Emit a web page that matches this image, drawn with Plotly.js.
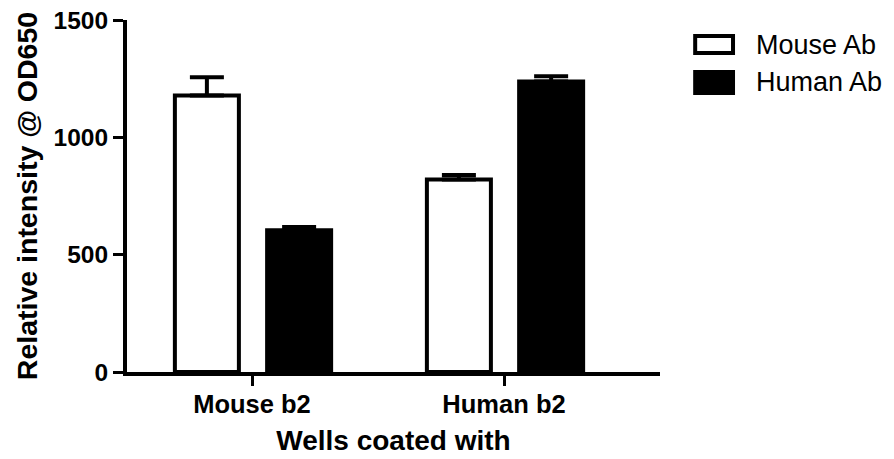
<!DOCTYPE html>
<html>
<head>
<meta charset="utf-8">
<script src="https://cdn.plot.ly/plotly-3.0.1.min.js"></script>
<style>html,body{margin:0;padding:0;background:#fff;}#chart{width:894px;height:459px;}</style>
</head>
<body>
<div id="chart"></div>
<script>
const categories = ['Mouse b2', 'Human b2'];
const seriesNames = ['Mouse Ab', 'Human Ab'];
const mouseAb = [1178, 820];
const mouseAbErr = [78, 20];
const humanAb = [604, 1238];
const humanAbErr = [14, 22];
const yTicks = [0, 500, 1000, 1500];

const FONT = 'Liberation Sans, Arial, sans-serif';

const traces = [
  {
    type: 'bar', name: seriesNames[0], x: categories, y: mouseAb,
    offset: -0.306, width: 0.254,
    marker: {color: '#ffffff', line: {color: '#000000', width: 4}},
    error_y: {type: 'data', symmetric: false, array: mouseAbErr, arrayminus: [0, 0], color: '#000000', thickness: 4, width: 17},
    showlegend: false
  },
  {
    type: 'bar', name: seriesNames[1], x: categories, y: humanAb,
    offset: 0.06, width: 0.254,
    marker: {color: '#000000', line: {color: '#000000', width: 4}},
    error_y: {type: 'data', symmetric: false, array: humanAbErr, arrayminus: [0, 0], color: '#000000', thickness: 4, width: 17},
    showlegend: false
  }
];

const legendShapes = [
  {type: 'rect', xref: 'paper', yref: 'paper', x0: 1.066, x1: 1.137, y0: 0.906, y1: 0.9545, fillcolor: '#ffffff', line: {color: '#000000', width: 4}},
  {type: 'rect', xref: 'paper', yref: 'paper', x0: 1.066, x1: 1.137, y0: 0.7926, y1: 0.852, fillcolor: '#000000', line: {color: '#000000', width: 4}}
];
const legendAnnotations = seriesNames.map((n, i) => ({
  xref: 'paper', yref: 'paper', x: 1.177, y: i === 0 ? 0.93 : 0.825,
  xanchor: 'left', yanchor: 'middle', showarrow: false, text: n,
  font: {family: FONT, size: 27, color: '#000000'}
}));

const layout = {
  width: 894, height: 459,
  margin: {l: 127, r: 234, t: 20, b: 87},
  paper_bgcolor: '#ffffff', plot_bgcolor: '#ffffff',
  barmode: 'overlay',
  showlegend: false,
  font: {family: FONT, color: '#000000'},
  xaxis: {
    type: 'category', range: [-0.496, 1.619], fixedrange: true,
    showline: true, linecolor: '#000000', linewidth: 4,
    ticks: 'outside', ticklen: 10, tickwidth: 3, tickcolor: '#000000',
    ticklabelstandoff: -4,
    showgrid: false, zeroline: false,
    tickfont: {family: FONT, size: 25.5, weight: 'bold', color: '#000000'},
    title: {text: 'Wells coated with', font: {family: FONT, size: 28, weight: 'bold', color: '#000000'}, standoff: 15},
    automargin: false
  },
  yaxis: {
    range: [0, 1500], tickvals: yTicks, ticktext: yTicks.map(String),
    showline: true, linecolor: '#000000', linewidth: 4,
    ticks: 'outside', ticklen: 10, tickwidth: 3, tickcolor: '#000000',
    showgrid: false, zeroline: false,
    tickfont: {family: FONT, size: 24.5, weight: 'bold', color: '#000000'},
    title: {text: 'Relative intensity @ OD650', font: {family: FONT, size: 28.5, weight: 'bold', color: '#000000'}, standoff: 9},
    automargin: false
  },
  shapes: legendShapes,
  annotations: legendAnnotations
};

Plotly.newPlot('chart', traces, layout, {staticPlot: true, displayModeBar: false});
</script>
</body>
</html>
